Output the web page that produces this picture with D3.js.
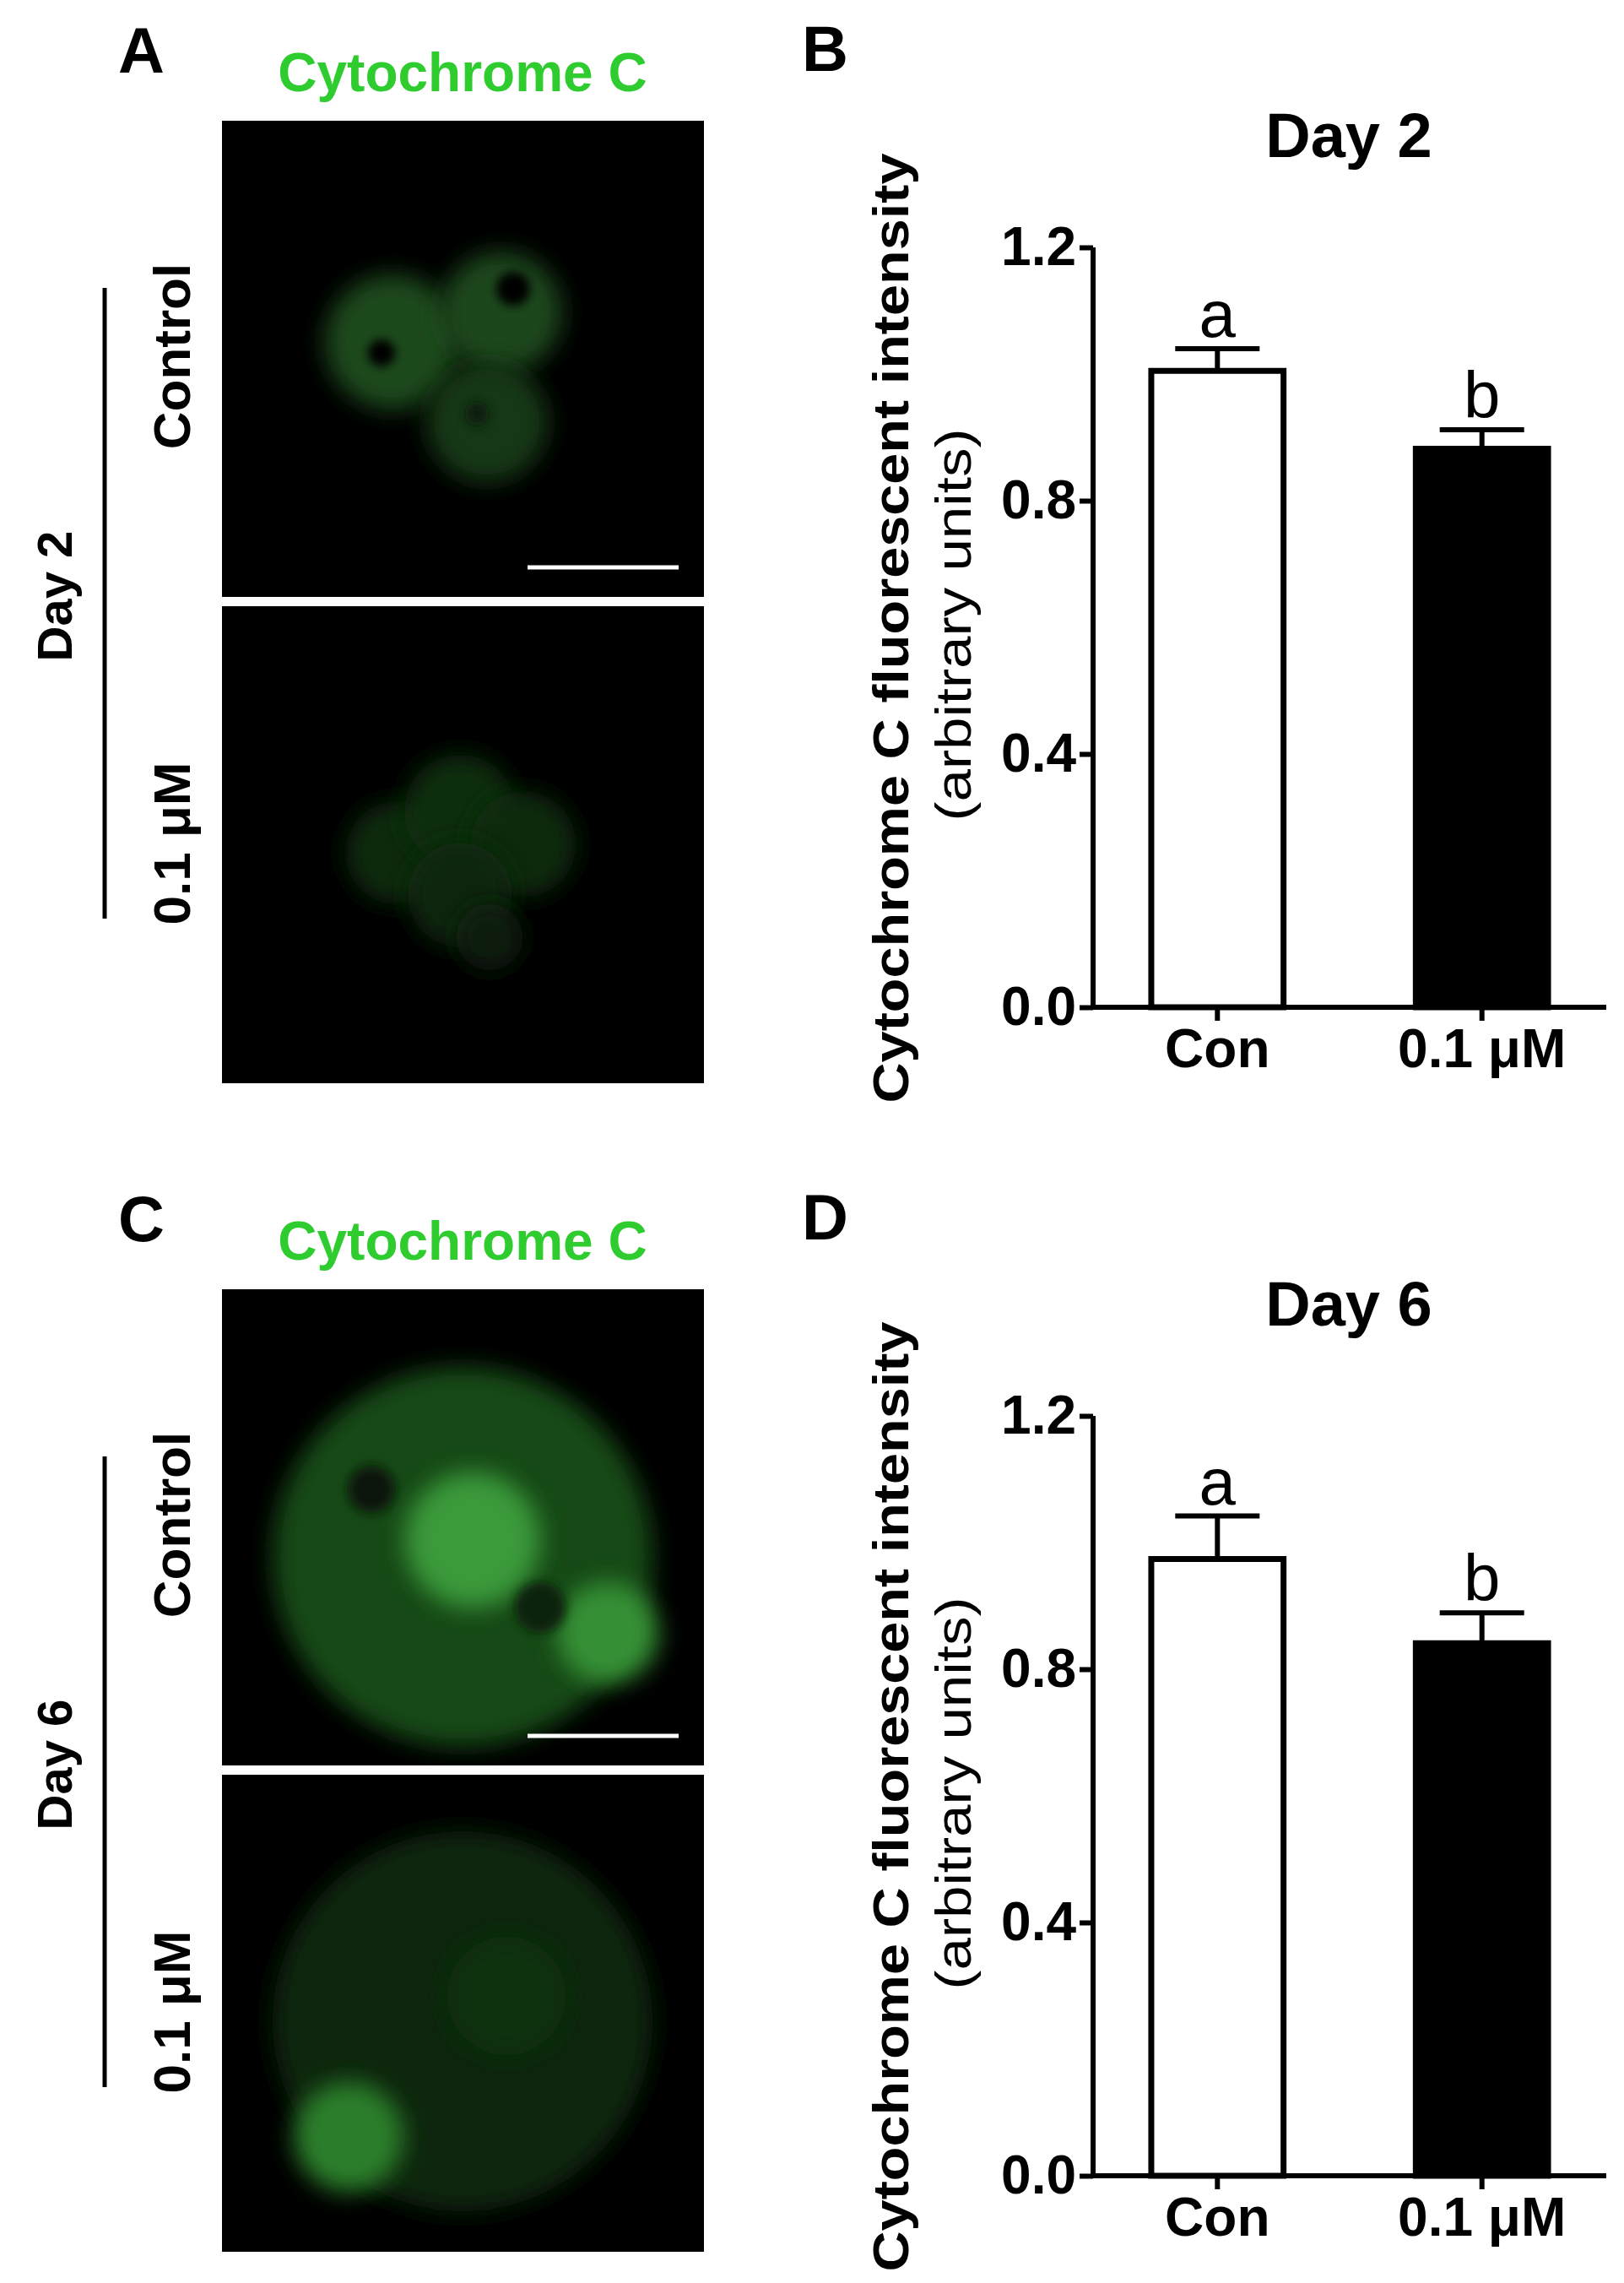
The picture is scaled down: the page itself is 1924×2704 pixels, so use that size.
<!DOCTYPE html>
<html><head><meta charset="utf-8">
<script src="https://cdn.jsdelivr.net/npm/d3@7"></script>
<style>body{margin:0;background:#fff}</style>
</head><body>
<svg id="fig" width="1924" height="2704"></svg>
<script>
var groups = ["Con", "0.1 \u03bcM"];
var day2Means = [1.005, 0.882];
var day2Err = [0.035, 0.03];
var day6Means = [0.974, 0.841];
var day6Err = [0.068, 0.048];
var yTicks = [0.0, 0.4, 0.8, 1.2];
var sig = ["a", "b"];

var svg = d3.select("#fig");
var font = "Liberation Sans, Arial, sans-serif";
var defs = svg.append("defs");
[["blur", 14], ["blur2", 6]].forEach(function (f) {
  defs.append("filter").attr("id", f[0]).attr("x", "-50%").attr("y", "-50%")
    .attr("width", "200%").attr("height", "200%")
    .append("feGaussianBlur").attr("stdDeviation", f[1]);
});

function micro(g, letter, day, blobsTop, blobsBot) {
  g.append("text").attr("x", 140).attr("y", 86).text(letter)
    .attr("font-family", font).attr("font-weight", "bold").attr("font-size", 76);
  g.append("text").attr("x", 548).attr("y", 108).attr("text-anchor", "middle").text("Cytochrome C")
    .attr("font-family", font).attr("font-weight", "bold").attr("font-size", 64).attr("fill", "#2ecc2e");
  g.append("rect").attr("x", 263).attr("y", 143).attr("width", 571).attr("height", 564).attr("fill", "#000");
  g.append("rect").attr("x", 263).attr("y", 718).attr("width", 571).attr("height", 565).attr("fill", "#000");
  var clip = "clip" + letter;
  g.append("clipPath").attr("id", clip).append("rect").attr("x", 263).attr("y", 143).attr("width", 571).attr("height", 1140);
  var cg = g.append("g").attr("clip-path", "url(#" + clip + ")");
  [blobsTop, blobsBot].forEach(function (bl) {
    bl.forEach(function (b) {
      cg.append("circle").attr("cx", b[0]).attr("cy", b[1]).attr("r", b[2])
        .attr("fill", b[3]).attr("filter", b[4] || "url(#blur)");
    });
  });
  g.append("rect").attr("x", 263).attr("y", 707).attr("width", 571).attr("height", 11).attr("fill", "#fff");
  g.append("line").attr("x1", 625).attr("x2", 804).attr("y1", 672).attr("y2", 672)
    .attr("stroke", "#fff").attr("stroke-width", 5);
  g.append("line").attr("x1", 124).attr("x2", 124).attr("y1", 341).attr("y2", 1088)
    .attr("stroke", "#000").attr("stroke-width", 5);
  [[85, 706, day, 58], [225, 422, "Control", 62], [225, 999, "0.1 \u03bcM", 62]].forEach(function (t) {
    g.append("text").attr("transform", "translate(" + t[0] + "," + t[1] + ") rotate(-90)")
      .attr("text-anchor", "middle").attr("font-family", font).attr("font-weight", "bold")
      .attr("font-size", t[3]).text(t[2]);
  });
}

function chart(g, letter, title, means, errs) {
  var y = d3.scaleLinear().domain([0, 1.2]).range([1193, 293]);
  var x = d3.scaleBand().domain(groups).range([1295, 1903]).paddingInner(0.5).paddingOuter(0.22);
  g.append("text").attr("x", 950).attr("y", 84).text(letter)
    .attr("font-family", font).attr("font-weight", "bold").attr("font-size", 76);
  g.append("text").attr("x", 1598).attr("y", 186).attr("text-anchor", "middle").text(title)
    .attr("font-family", font).attr("font-weight", "bold").attr("font-size", 74);
  var ya = g.append("g").attr("transform", "translate(1295,0)")
    .call(d3.axisLeft(y).tickValues(yTicks).tickFormat(d3.format(".1f")).tickSize(16).tickPadding(4));
  var xa = g.append("g").attr("transform", "translate(0,1193)")
    .call(d3.axisBottom(x).tickSize(16).tickPadding(10));
  [ya, xa].forEach(function (a) {
    a.select(".domain").attr("stroke-width", 6);
    a.selectAll(".tick line").attr("stroke-width", 6);
    a.selectAll("text").attr("font-family", font).attr("font-weight", "bold").attr("font-size", 64).attr("fill", "#000");
  });
  xa.select(".domain").attr("d", "M1295,0H1903");
  ya.select(".domain").attr("d", "M0," + y(1.2) + "V" + y(0));
  g.selectAll(".bar").data(means).enter().append("rect")
    .attr("x", function (d, i) { return x(groups[i]); })
    .attr("y", function (d) { return y(d); })
    .attr("width", x.bandwidth())
    .attr("height", function (d) { return y(0) - y(d); })
    .attr("fill", function (d, i) { return i ? "#000" : "#fff"; })
    .attr("stroke", "#000").attr("stroke-width", 7);
  means.forEach(function (m, i) {
    var cx = x(groups[i]) + x.bandwidth() / 2;
    g.append("line").attr("x1", cx).attr("x2", cx).attr("y1", y(m)).attr("y2", y(m + errs[i]))
      .attr("stroke", "#000").attr("stroke-width", 6);
    g.append("line").attr("x1", cx - 50).attr("x2", cx + 50).attr("y1", y(m + errs[i])).attr("y2", y(m + errs[i]))
      .attr("stroke", "#000").attr("stroke-width", 6);
    g.append("text").attr("x", cx).attr("y", y(m + errs[i]) - 14).attr("text-anchor", "middle")
      .attr("font-family", font).attr("font-size", 78).text(sig[i]);
  });
  g.append("text").attr("transform", "translate(1076,744) rotate(-90)").attr("text-anchor", "middle")
    .attr("font-family", font).attr("font-weight", "bold").attr("font-size", 60)
    .attr("textLength", 1125).attr("lengthAdjust", "spacingAndGlyphs")
    .text("Cytochrome C fluorescent intensity");
  g.append("text").attr("transform", "translate(1150,740) rotate(-90)").attr("text-anchor", "middle")
    .attr("font-family", font).attr("font-size", 60)
    .attr("textLength", 465).attr("lengthAdjust", "spacingAndGlyphs").text("(arbitrary units)");
}

var upper = svg.append("g");
micro(upper, "A", "Day 2",
  [[465, 405, 80, "#1c4a1c"], [594, 370, 72, "#1a461a"], [577, 500, 72, "#143814"],
   [452, 418, 16, "#000", "url(#blur2)"], [608, 342, 20, "#000", "url(#blur2)"], [565, 490, 14, "#0a1a0a", "url(#blur2)"]],
  [[470, 1010, 60, "#0f2a0f"], [545, 960, 66, "#112e11"], [620, 1000, 62, "#0f2a0f"],
   [545, 1060, 62, "#0f280f"], [580, 1110, 40, "#0b1e0b"]]);
chart(upper, "B", "Day 2", day2Means, day2Err);

var lower = svg.append("g").attr("transform", "translate(0,1384)");
micro(lower, "C", "Day 6",
  [[548, 460, 225, "#164a16"], [560, 440, 80, "#3a9a3a"], [720, 550, 60, "#349034"],
   [440, 380, 28, "#081808", "url(#blur2)"], [640, 520, 30, "#0c240c", "url(#blur2)"]],
  [[548, 1010, 225, "#0c260c"], [413, 1147, 65, "#2a7e2a"], [600, 980, 70, "#103210"]]);
chart(lower, "D", "Day 6", day6Means, day6Err);
</script>
</body></html>
